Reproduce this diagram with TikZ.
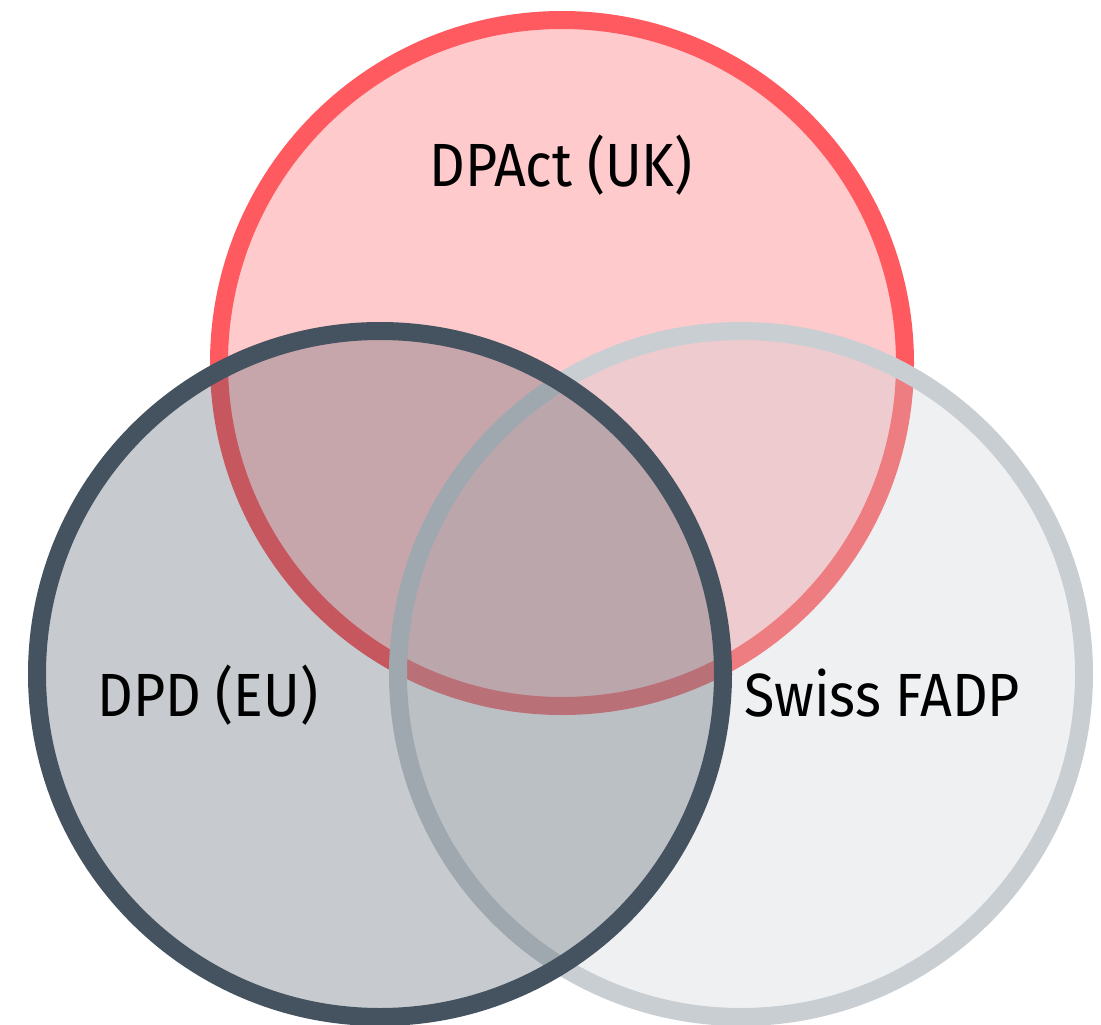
\documentclass[tikz,border=0pt]{standalone}
\usepackage{fontspec}
\setmainfont[FakeStretch=0.91]{Fira Sans}
\definecolor{ukred}{HTML}{FF5A5F}
\definecolor{euslate}{HTML}{44535F}
\definecolor{chgray}{HTML}{C9CED3}
\begin{document}
\begin{tikzpicture}[x=1pt,y=-1pt,
  setcircle/.style={circle,inner sep=0pt,minimum size=686pt,line width=18pt,
    draw=#1,fill=#1,fill opacity=0.3,draw opacity=1},
  setlabel/.style={anchor=base,text=black,font=\fontsize{61}{63}\selectfont}]
\useasboundingbox (0,0) rectangle (1101,1025);
% three overlapping sets, drawn back to front
\node[setcircle=ukred,fill opacity=0.32] (uk) at (562,363) {};
\node[setcircle=chgray] (ch) at (741,674) {};
\node[setcircle=euslate] (eu) at (380,674) {};
% set labels
\node[setlabel] (uklabel) at (561,186) {DPAct (UK)};
\node[setlabel] (eulabel) at (208,716) {DPD (EU)};
\node[setlabel] (chlabel) at (882,716) {Swiss FADP};
\end{tikzpicture}
\end{document}
